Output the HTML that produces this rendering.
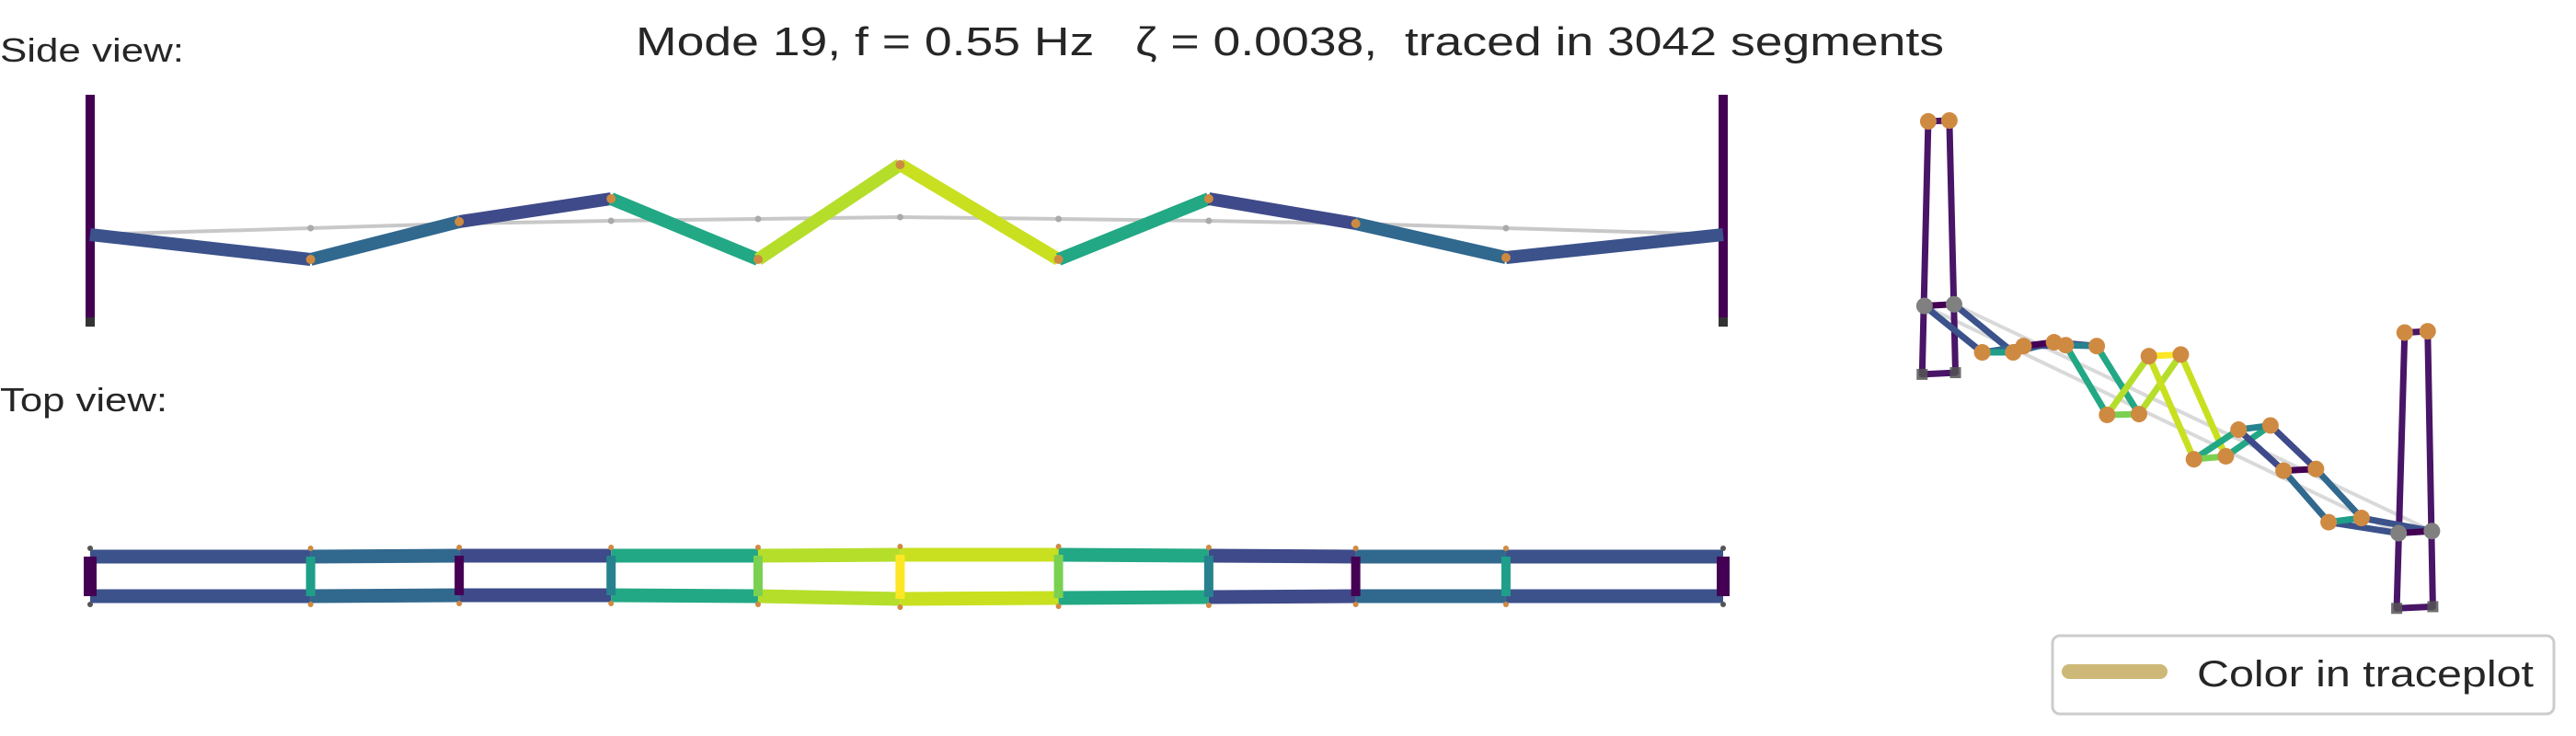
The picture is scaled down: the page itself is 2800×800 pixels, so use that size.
<!DOCTYPE html>
<html><head><meta charset="utf-8"><style>
html,body{margin:0;padding:0;background:#fff;}
svg{display:block;font-family:"Liberation Sans",sans-serif;}
</style></head><body>
<svg id="chart" width="2800" height="800" viewBox="0 0 2800 800" xmlns="http://www.w3.org/2000/svg">
<text x="691" y="60" font-size="44" fill="#262626" textLength="1422" lengthAdjust="spacingAndGlyphs" xml:space="preserve">Mode 19, f = 0.55 Hz   ζ = 0.0038,  traced in 3042 segments</text>
<text x="0" y="67" font-size="36" fill="#262626" textLength="200" lengthAdjust="spacingAndGlyphs">Side view:</text>
<text x="0" y="447" font-size="36" fill="#262626" textLength="182" lengthAdjust="spacingAndGlyphs">Top view:</text>
<g id="sideG"></g>
<g id="topG"></g>
<g id="isoG"></g>
<g>
<rect x="2231" y="691" width="545" height="85" rx="8" fill="#fff" stroke="#cccccc" stroke-width="3"/>
<line x1="2249" y1="730" x2="2348" y2="730" stroke="#cdb877" stroke-width="16" stroke-linecap="round"/>
<text x="2388" y="746" font-size="40" fill="#262626" textLength="366" lengthAdjust="spacingAndGlyphs">Color in traceplot</text>
</g>
</svg>
<script>
// ---- data ----
const stations = [0, 0.135, 0.226, 0.319, 0.409, 0.496, 0.593, 0.685, 0.775, 0.867, 1];
const sideDeformed = [0, -27, 14, 39, -27, 76, -27, 39, 12, -25, 0];
const sideUndeformed = [0, 7, 12, 15, 17, 19, 17, 15, 12, 7, 0];
const segColors = ['#3b528b','#31688e','#3e4a89','#22a884','#b5de2b','#c8e020','#22a884','#3e4a89','#31688e','#3b528b'];
const rungColors = ['#440154','#1f9e89','#440154','#26828e','#7ad151','#fde725','#7ad151','#26828e','#440154','#1f9e89','#440154'];
const topChordA = [0, 0, 1, 1, 1, 2, 2, 1, 0, 0, 0];
const topChordB = [0, 0, 1, 1, 0, -3, -2, -1, 0, 0, 0];
// 3D projected node coordinates (plot units)
const isoAx = [180,303,391,481,569,658,754,849,945,1041,1190];
const isoAy = [550,660,645,643,808,669,913,843,940,1062,1088];
const isoBx = [243,369,456,547,637,726,822,917,1014,1111,1261];
const isoBy = [546,660,636,645,806,665,906,833,936,1052,1083];
const isoRungColors = ['#440154','#1f9e89','#440154','#26828e','#7ad151','#fde725','#7ad151','#26828e','#440154','#1f9e89','#440154'];
const towerTopL = [[188,113],[233,111]];
const towerBaseL = [[175,712],[246,708]];
const towerTopR = [[1203,613],[1252,610]];
const towerBaseR = [[1186,1266],[1263,1262]];

const NS='http://www.w3.org/2000/svg';
function mk(parent,tag,attrs){const e=document.createElementNS(NS,tag);for(const k in attrs)e.setAttribute(k,attrs[k]);parent.appendChild(e);return e;}
// ---- side view ----
const sx = s => 98 + s*1775;
const sy = v => 255 - v;
const sideEl=document.getElementById('sideG');
let pts=stations.map((s,i)=>sx(s)+','+sy(sideUndeformed[i])).join(' ');
let ul=mk(sideEl,'polyline',{points:pts,fill:'none',stroke:'#c8c8c8','stroke-width':4});


stations.forEach((s,i)=>{const c=mk(sideEl,'circle',{cx:sx(s),cy:sy(sideUndeformed[i]),r:3.5,fill:'#aaa'});

});
[0,10].forEach(i=>{const t=mk(sideEl,'line',{x1:sx(stations[i]),y1:103,x2:sx(stations[i]),y2:355,stroke:'#440154','stroke-width':10});


const b=mk(sideEl,'rect',{x:sx(stations[i])-5,y:345,width:10,height:10,fill:'#333'});

});
for(let i=0;i<stations.length-1;i++){const l=mk(sideEl,'line',{x1:sx(stations[i]),y1:sy(sideDeformed[i]),x2:sx(stations[i+1]),y2:sy(sideDeformed[i+1]),stroke:segColors[i],'stroke-width':14});

}
stations.forEach((s,i)=>{if(i>0&&i<10){const c=mk(sideEl,'circle',{cx:sx(s),cy:sy(sideDeformed[i]),r:5,fill:'#cf8a42'});

}});
// ---- top view ----
const topEl=document.getElementById('topG');
const tyA = d => 605 - d, tyB = d => 648 - d;
for(let i=0;i<stations.length-1;i++){
 const a=mk(topEl,'line',{x1:sx(stations[i]),y1:tyA(topChordA[i]),x2:sx(stations[i+1]),y2:tyA(topChordA[i+1]),stroke:segColors[i],'stroke-width':15});
 
 
 const b=mk(topEl,'line',{x1:sx(stations[i]),y1:tyB(topChordB[i]),x2:sx(stations[i+1]),y2:tyB(topChordB[i+1]),stroke:segColors[i],'stroke-width':15});
 
 }
stations.forEach((s,i)=>{const r=mk(topEl,'line',{x1:sx(s),y1:tyA(topChordA[i]),x2:sx(s),y2:tyB(topChordB[i]),stroke:rungColors[i],'stroke-width':(i==0||i==10)?14:10});


[tyA(topChordA[i])-9,tyB(topChordB[i])+9].forEach(y=>{const c=mk(topEl,'circle',{cx:sx(s),cy:y,r:3,fill:(i==0||i==10)?'#555':'#cf8a42'});

});});
// ---- 3D view ----
const isoEl=document.getElementById('isoG');
const ix = x => 2000 + x/1.96, iy = y => 80 + y/2.178;
function seg(x1,y1,x2,y2,col,w,name){const l=mk(isoEl,'line',{x1:ix(x1),y1:iy(y1),x2:ix(x2),y2:iy(y2),stroke:col,'stroke-width':w,'stroke-linecap':'round'});

return l;}
seg(isoAx[0],isoAy[0],isoAx[10],isoAy[10],'rgba(180,180,180,0.5)',4,'undeformed-chord');
seg(isoBx[0],isoBy[0],isoBx[10],isoBy[10],'rgba(180,180,180,0.5)',4,'undeformed-chord');
[[towerTopL,towerBaseL],[towerTopR,towerBaseR]].forEach(([tp,bs])=>{
 for(let k=0;k<2;k++) seg(tp[k][0],tp[k][1],bs[k][0],bs[k][1],'#481567',7,'tower-leg');
 seg(tp[0][0],tp[0][1],tp[1][0],tp[1][1],'#481567',7,'tower-crossbeam');
 seg(bs[0][0],bs[0][1],bs[1][0],bs[1][1],'#481567',7,'tower-base-beam');
 bs.forEach(p=>{const r=mk(isoEl,'rect',{x:ix(p[0])-6,y:iy(p[1])-6,width:12,height:12,fill:'#555',opacity:0.85});
 
 });
 tp.forEach(p=>{const c=mk(isoEl,'circle',{cx:ix(p[0]),cy:iy(p[1]),r:9,fill:'#cf8a42'});
 
 });});
for(let i=0;i<isoAx.length-1;i++){
 seg(isoAx[i],isoAy[i],isoAx[i+1],isoAy[i+1],segColors[i],7,'deck-chord-a');
 seg(isoBx[i],isoBy[i],isoBx[i+1],isoBy[i+1],segColors[i],7,'deck-chord-b');}
for(let i=0;i<isoAx.length;i++) seg(isoAx[i],isoAy[i],isoBx[i],isoBy[i],isoRungColors[i],7,'deck-rung');
for(let i=0;i<isoAx.length;i++){
 const gray=(i==0||i==10);
 [[isoAx[i],isoAy[i]],[isoBx[i],isoBy[i]]].forEach(p=>{const c=mk(isoEl,'circle',{cx:ix(p[0]),cy:iy(p[1]),r:9,fill:gray?'#808080':'#cf8a42'});
 
 });}
</script>
</body></html>
